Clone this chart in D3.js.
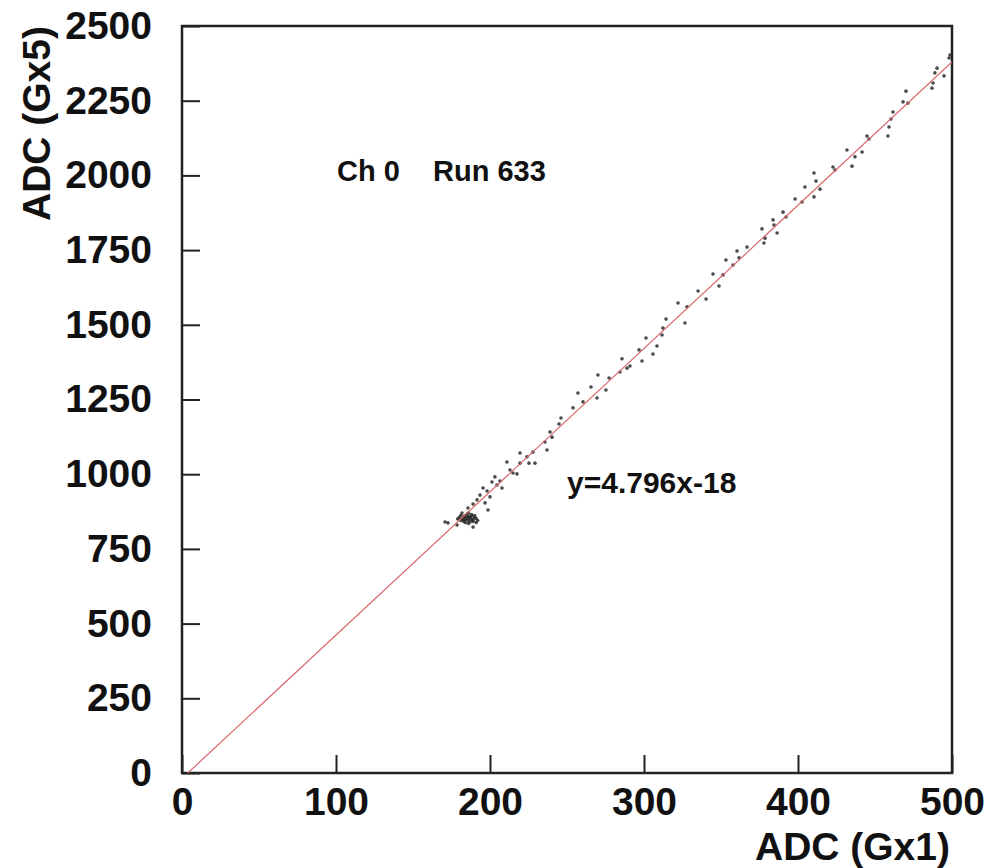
<!doctype html>
<html>
<head>
<meta charset="utf-8">
<script src="https://d3js.org/d3.v7.min.js"></script>
<style>
  body { margin: 0; background: #fff; }
  text { font-family: "Liberation Sans", Arial, Helvetica, sans-serif; font-weight: bold; fill: #111; }
</style>
</head>
<body>
<script>
  // tick values
  var xTicks = [0, 100, 200, 300, 400, 500];
  var yTicks = [0, 250, 500, 750, 1000, 1250, 1500, 1750, 2000, 2250, 2500];

  // fit parameters
  var fitSlope = 4.796;
  var fitOffset = -18;

  // ADC (Gx1) values
  var adcG1 = [
    498.7, 498.1, 490.3, 488.9, 494.8, 487.7, 487.0, 470.1, 468.2, 471.4,
    461.7, 460.4, 459.1, 458.4, 444.8, 446.1, 441.6, 431.8, 437.0, 435.1,
    422.7, 424.0,
    410.4, 411.7, 404.5, 414.3, 410.4, 398.1, 402.6, 390.3, 392.2, 383.8,
    384.4, 386.4, 376.6, 378.6, 377.9, 366.9, 360.4, 361.7, 353.2, 357.8,
    344.8, 351.3, 348.7, 340.3,
    335.1, 322.1, 327.9, 314.3, 326.6, 312.3, 311.7, 301.3, 296.8, 308.4,
    305.8, 285.7, 298.7, 290.9, 289.0, 284.4, 270.1, 277.3, 265.6, 275.3,
    257.1, 269.5, 260.4, 253.9,
    246.1, 244.8, 239.0, 240.3, 235.7, 237.0, 227.9, 219.5, 224.0, 211.0,
    225.3, 229.2, 219.5, 213.0, 214.9, 217.5, 203.2, 201.3, 206.5, 204.5,
    207.8, 195.5, 198.1, 193.5, 200.0, 191.6, 189.0, 196.8, 185.7, 198.7,
    181.8, 172.7, 170.8, 178.6, 189.0, 188.3, 182.5,
    181, 183, 185, 187, 184, 186, 188, 190, 182, 185,
    189, 191, 183, 186, 180, 187, 184, 188, 192, 186,
    183, 190, 185, 187, 181, 189, 186, 184, 191, 179
  ];
  // ADC (Gx5) values
  var adcG5 = [
    2403, 2393, 2359, 2343, 2333, 2309, 2292, 2282, 2246, 2242,
    2212, 2189, 2162, 2132, 2132, 2122, 2078, 2085, 2062, 2031,
    2028, 2018,
    2008, 1981, 1961, 1954, 1928, 1921, 1911, 1877, 1861, 1851,
    1834, 1807, 1821, 1790, 1774, 1760, 1747, 1724, 1717, 1700,
    1670, 1667, 1630, 1586,
    1613, 1573, 1560, 1519, 1506, 1489, 1466, 1456, 1416, 1429,
    1402, 1386, 1379, 1362, 1355, 1342, 1332, 1322, 1292, 1282,
    1272, 1255, 1242, 1222,
    1188, 1168, 1141, 1124, 1108, 1081, 1074, 1071, 1058, 1041,
    1037, 1037, 1037, 1014, 1004, 1001, 991, 974, 977, 964,
    954, 954, 944, 930, 924, 914, 900, 904, 887, 880,
    870, 837, 840, 830, 823, 847, 847,
    862, 858, 855, 852, 848, 845, 860, 856, 850, 866,
    848, 852, 842, 870, 855, 840, 862, 865, 845, 858,
    853, 862, 850, 856, 845, 842, 835, 838, 838, 850
  ];

  var width = 989, height = 868;
  var margin = { top: 26, right: 37, bottom: 95, left: 182 };
  var innerW = width - margin.left - margin.right;
  var innerH = height - margin.top - margin.bottom;

  var x = d3.scaleLinear().domain([0, 500]).range([0, innerW]);
  var y = d3.scaleLinear().domain([0, 2500]).range([innerH, 0]);

  var svg = d3.select("body").append("svg")
      .attr("width", width)
      .attr("height", height);

  var g = svg.append("g")
      .attr("transform", "translate(" + margin.left + "," + margin.top + ")");

  g.append("clipPath").attr("id", "frameClip")
    .append("rect").attr("width", innerW).attr("height", innerH);

  // x axis: ticks inside, labels below
  var xAxis = g.append("g")
      .attr("transform", "translate(0," + innerH + ")")
      .call(d3.axisBottom(x).tickValues(xTicks).tickFormat(d3.format("d"))
        .tickSizeInner(-18).tickSizeOuter(0).tickPadding(14));
  xAxis.select(".domain").remove();
  xAxis.selectAll("line").attr("stroke", "#222").attr("stroke-width", 2);
  xAxis.selectAll("text").attr("font-size", 39).attr("fill", "#111")
      .style("font-family", "'Liberation Sans', Arial, sans-serif").style("font-weight", "bold");

  // y axis
  var yAxis = g.append("g")
      .call(d3.axisLeft(y).tickValues(yTicks).tickFormat(d3.format("d"))
        .tickSizeInner(-18).tickSizeOuter(0).tickPadding(30));
  yAxis.select(".domain").remove();
  yAxis.selectAll("line").attr("stroke", "#222").attr("stroke-width", 2);
  yAxis.selectAll("text").attr("font-size", 39).attr("fill", "#111")
      .style("font-family", "'Liberation Sans', Arial, sans-serif").style("font-weight", "bold");

  // frame
  g.append("rect")
      .attr("width", innerW).attr("height", innerH)
      .attr("fill", "none").attr("stroke", "#222").attr("stroke-width", 2.5);

  // data points
  g.append("g").selectAll("circle")
      .data(adcG1)
      .join("circle")
      .attr("cx", function(d) { return x(d); })
      .attr("cy", function(d, i) { return y(adcG5[i]); })
      .attr("r", 1.8)
      .attr("fill", "#2a2a2a")
      .attr("fill-opacity", 0.85);

  // fit line
  var fitLine = d3.line()
      .x(function(d) { return x(d); })
      .y(function(d) { return y(fitSlope * d + fitOffset); });
  g.append("path")
      .attr("clip-path", "url(#frameClip)")
      .attr("d", fitLine([0, 500]))
      .attr("fill", "none")
      .attr("stroke", "#d9666a")
      .attr("stroke-width", 1.2);

  // labels
  g.append("text")
      .attr("x", 337 - margin.left).attr("y", 181 - margin.top)
      .attr("font-size", 29).text("Ch 0");
  g.append("text")
      .attr("x", 433 - margin.left).attr("y", 181 - margin.top)
      .attr("font-size", 29).text("Run 633");
  g.append("text")
      .attr("x", 567 - margin.left).attr("y", 493 - margin.top)
      .attr("font-size", 30).text("y=4.796x-18");

  // axis titles
  svg.append("text")
      .attr("x", 950).attr("y", 860)
      .attr("text-anchor", "end")
      .attr("font-size", 39)
      .text("ADC (Gx1)");
  svg.append("text")
      .attr("transform", "translate(50,26) rotate(-90)")
      .attr("text-anchor", "end")
      .attr("font-size", 39)
      .text("ADC (Gx5)");
</script>
</body>
</html>
